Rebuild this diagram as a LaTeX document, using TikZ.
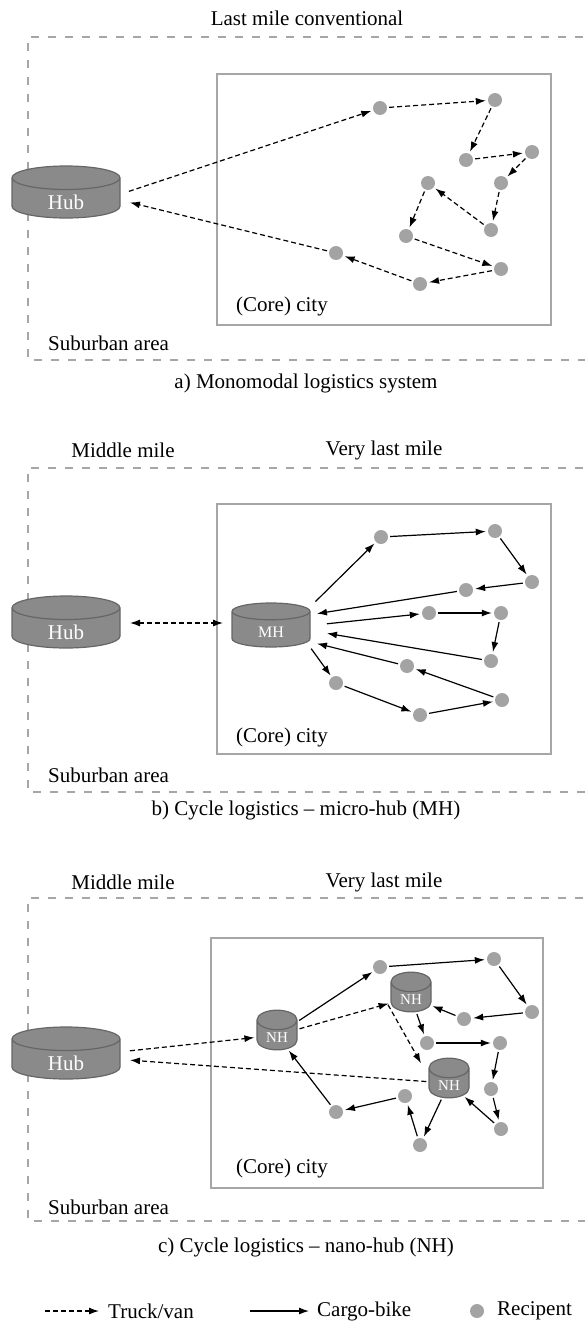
\documentclass[tikz,border=0pt]{standalone}
\usepackage{fontspec}
\setmainfont{Liberation Serif}
\usetikzlibrary{shapes.geometric, arrows.meta}
\definecolor{zonegray}{HTML}{A6A6A6}
\definecolor{hubfill}{HTML}{8A8A8A}
\definecolor{hubline}{HTML}{666666}
\definecolor{dotgray}{HTML}{A3A3A3}
% text of a hub sits on the body, below the top of the drum
\newcommand{\drumtext}[2]{\raisebox{-#1}[\height][\depth]{#2}}

\begin{document}
\begin{tikzpicture}[x=1pt, y=-1pt, font=\fontsize{21}{25}\selectfont,
    >={Latex[length=10pt, width=7pt]},
    zone/.style={draw=zonegray, line width=1.6pt, dash pattern=on 8pt off 9pt},
    city/.style={draw=zonegray, line width=1.8pt},
    lbl/.style={anchor=west, inner sep=0pt},
    depot/.style={cylinder, shape border rotate=90, anchor=shape center, draw=hubline, fill=hubfill,
                  line width=1.2pt, text=white, inner sep=0pt},
    hub/.style={depot, aspect=0.65, minimum width=108pt, minimum height=52pt},
    micro/.style={depot, aspect=0.65, minimum width=78pt, minimum height=44pt, font=\fontsize{16}{18}\selectfont},
    nano/.style={depot, aspect=0.9, minimum width=40pt, minimum height=26pt, font=\fontsize{15}{17}\selectfont},
    stop/.style={circle, fill=dotgray, inner sep=0pt, minimum size=14pt},
    truck/.style={->, line width=1.2pt, dash pattern=on 5pt off 3pt, shorten <=2pt, shorten >=2pt},
    bike/.style={->, line width=1.2pt, shorten <=2pt, shorten >=2pt}]
  \useasboundingbox (0,0) rectangle (585,1322);

  % a) one van tour from the hub through the city
  \node (ta) at (307,18) {Last mile conventional};
  \draw[zone] (600,37) -- (28,37) -- (28,360) -- (600,360);
  \draw[city] (217,74) rectangle (551,325);
  \node[lbl] (cia) at (236,306) {(Core) city};
  \node[lbl] (sua) at (48,343) {Suburban area};
  \node (capa) at (306,383) {a) Monomodal logistics system};
  \node[hub] (ha) at (66,192) {\drumtext{4pt}{Hub}};
  \foreach \n/\x/\y in {1/380/108, 2/495/100, 3/466/160, 4/532/152, 5/501/183, 6/491/230,
                        7/428/183, 8/406/236, 9/501/269, 10/420/284, 11/336/253}
    \node[stop] (a\n) at (\x,\y) {};
  \draw[truck] ([xshift=61pt]ha.shape center) -- (a1);
  \foreach \s [count=\t from 2] in {1,...,10}
    \draw[truck] (a\s) -- (a\t);
  \draw[truck] (a11) -- ([shift={(62pt,-10pt)}]ha.shape center);

  % b) van to the micro-hub, three bike tours from there
  \node (mmb) at (123,450) {Middle mile};
  \node (vlb) at (384,450) {Very last mile};
  \draw[zone] (600,468) -- (28,468) -- (28,792) -- (600,792);
  \draw[city] (217,504) rectangle (551,754);
  \node[lbl] (cib) at (236,737) {(Core) city};
  \node[lbl] (sub) at (48,775) {Suburban area};
  \node (capb) at (306,810) {b) Cycle logistics – micro-hub (MH)};
  \node[hub] (hb) at (66,622) {\drumtext{4pt}{Hub}};
  \node[micro] (mh) at (271,625) {\drumtext{3pt}{MH}};
  \foreach \n/\x/\y in {1/381/537, 2/495/531, 3/532/582, 4/466/590, 5/429/613, 6/501/613,
                        7/491/661, 8/336/683, 9/420/715, 10/502/700, 11/407/666}
    \node[stop] (b\n) at (\x,\y) {};
  \draw[truck, <->] ([shift={(62pt,-1pt)}]hb.shape center) -- ([shift={(-46pt,2pt)}]mh.shape center);
  \draw[bike] ([shift={(43pt,22pt)}]mh.shape center) -- (b1);
  \draw[bike] (b4) -- ([shift={(44pt,11pt)}]mh.shape center);
  \draw[bike] ([shift={(54pt,1pt)}]mh.shape center) -- (b5);
  \draw[bike] (b7) -- ([shift={(54pt,-8pt)}]mh.shape center);
  \draw[bike] ([shift={(39pt,-22pt)}]mh.shape center) -- (b8);
  \draw[bike] (b11) -- ([shift={(44pt,-18pt)}]mh.shape center);
  \foreach \s/\t in {1/2, 2/3, 3/4, 5/6, 6/7, 8/9, 9/10, 10/11}
    \draw[bike] (b\s) -- (b\t);

  % c) van to three nano-hubs, bike tours linking them
  \node (mmc) at (123,882) {Middle mile};
  \node (vlc) at (384,882) {Very last mile};
  \draw[zone] (600,898) -- (28,898) -- (28,1221) -- (600,1221);
  \draw[city] (211,938) rectangle (543,1188);
  \node[lbl] (cic) at (236,1168) {(Core) city};
  \node[lbl] (suc) at (48,1207) {Suburban area};
  \node (capc) at (306,1247) {c) Cycle logistics – nano-hub (NH)};
  \node[hub] (hc) at (66,1053) {\drumtext{4pt}{Hub}};
  \node[nano] (nh1) at (277,1030) {\drumtext{2pt}{NH}};
  \node[nano] (nh2) at (411,992) {\drumtext{2pt}{NH}};
  \node[nano] (nh3) at (449,1078) {\drumtext{2pt}{NH}};
  \foreach \n/\x/\y in {1/380/967, 2/494/959, 3/532/1012, 4/464/1019, 5/427/1043, 6/500/1043,
                        7/491/1089, 8/501/1129, 9/420/1145, 10/405/1096, 11/336/1112}
    \node[stop] (c\n) at (\x,\y) {};
  \draw[truck] ([shift={(62pt,2pt)}]hc.shape center) -- (nh1);
  \draw[truck] (nh3) -- ([shift={(62pt,-7pt)}]hc.shape center);
  \draw[truck] (nh1) -- (nh2);
  \draw[truck] ([shift={(-24pt,-11pt)}]nh2.shape center) -- ([shift={(-27pt,13pt)}]nh3.shape center);
  \draw[bike] (nh1) -- (c1);
  \draw[bike] (c4) -- (nh2);
  \draw[bike] (nh2) -- (c5);
  \draw[bike] (c8) -- (nh3);
  \draw[bike] (nh3) -- (c9);
  \draw[bike] (c11) -- (nh1);
  \foreach \s/\t in {1/2, 2/3, 3/4, 5/6, 6/7, 7/8, 9/10, 10/11}
    \draw[bike] (c\s) -- (c\t);

  % legend
  \coordinate (kt0) at (45,1311);
  \coordinate (kt1) at (99,1311);
  \draw[truck, shorten <=0pt, shorten >=0pt] (kt0) -- (kt1);
  \node[lbl] (kt) at (108,1311) {Truck/van};
  \coordinate (kb0) at (250,1311);
  \coordinate (kb1) at (309,1311);
  \draw[bike, shorten <=0pt, shorten >=0pt] (kb0) -- (kb1);
  \node[lbl] (kb) at (317,1311) {Cargo-bike};
  \node[stop] (kr0) at (477,1311) {};
  \node[lbl] (kr) at (497,1311) {Recipent};
\end{tikzpicture}
\end{document}
